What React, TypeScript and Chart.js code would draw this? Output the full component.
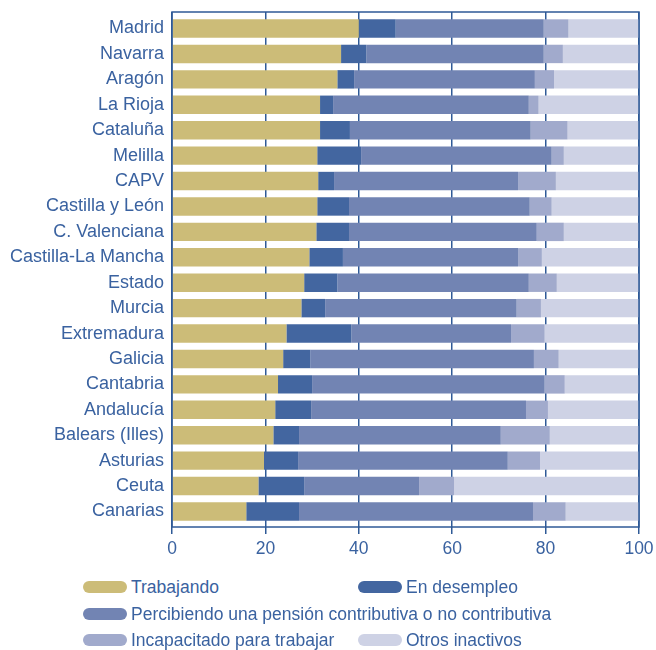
import React, { useEffect, useRef } from "react";
import { Chart, registerables } from "chart.js";

Chart.register(...registerables);

const categories = [
  "Madrid", "Navarra", "Aragón", "La Rioja", "Cataluña", "Melilla", "CAPV",
  "Castilla y León", "C. Valenciana", "Castilla-La Mancha", "Estado", "Murcia",
  "Extremadura", "Galicia", "Cantabria", "Andalucía", "Balears (Illes)",
  "Asturias", "Ceuta", "Canarias",
];

const trabajando = [40.0, 36.2, 35.4, 31.7, 31.7, 31.1, 31.3, 31.1, 30.9, 29.4, 28.3, 27.7, 24.5, 23.8, 22.7, 22.1, 21.7, 19.7, 18.5, 15.9];
const desempleo = [7.9, 5.4, 3.6, 2.8, 6.4, 9.4, 3.4, 6.8, 7.0, 7.2, 7.1, 5.1, 13.9, 5.8, 7.3, 7.7, 5.5, 7.3, 9.8, 11.3];
const pension = [31.7, 38.0, 38.7, 41.9, 38.7, 40.8, 39.4, 38.7, 40.2, 37.5, 41.0, 41.0, 34.2, 47.9, 49.8, 46.0, 43.2, 44.9, 24.6, 50.1];
const incapacitado = [5.3, 4.1, 4.1, 2.1, 7.9, 2.6, 8.1, 4.7, 5.8, 5.1, 6.0, 5.2, 7.2, 5.3, 4.3, 4.7, 10.5, 6.9, 7.5, 7.0];
const otros = [15.1, 16.3, 18.2, 21.5, 15.3, 16.1, 17.8, 18.7, 16.1, 20.8, 17.6, 21.0, 20.2, 17.2, 15.9, 19.5, 19.1, 21.2, 39.6, 15.7];

const seriesNames = [
  "Trabajando",
  "En desempleo",
  "Percibiendo una pensión contributiva o no contributiva",
  "Incapacitado para trabajar",
  "Otros inactivos",
];
const seriesColors = ["#CCBC78", "#4366A0", "#7284B3", "#A1AACC", "#CED2E5"];
const seriesData = [trabajando, desempleo, pension, incapacitado, otros];

const xTicks = [0, 20, 40, 60, 80, 100];

const TEXT = "#3A62A0";
const AXIS = "#2F5A97";
const FONT = "'Liberation Sans', Arial, Helvetica, sans-serif";

const boxPlugin = {
  id: "boxPlugin",
  afterDatasetsDraw(chart: any) {
    const { ctx, chartArea } = chart;
    ctx.save();
    ctx.strokeStyle = AXIS;
    ctx.lineWidth = 1.5;
    ctx.strokeRect(chartArea.left, chartArea.top, chartArea.right - chartArea.left, chartArea.bottom - chartArea.top);
    ctx.restore();
  },
};

const legendLayout = [
  { idx: 0, row: 0, col: 0 },
  { idx: 1, row: 0, col: 1 },
  { idx: 2, row: 1, col: 0 },
  { idx: 3, row: 2, col: 0 },
  { idx: 4, row: 2, col: 1 },
];

export default function App() {
  const ref = useRef<HTMLCanvasElement | null>(null);

  useEffect(() => {
    if (!ref.current) return;
    const chart = new Chart(ref.current, {
      type: "bar",
      data: {
        labels: categories,
        datasets: seriesNames.map((name, i) => ({
          label: name,
          data: seriesData[i],
          backgroundColor: seriesColors[i],
          borderWidth: 0,
          categoryPercentage: 1,
          barPercentage: 0.725,
        })),
      },
      options: {
        indexAxis: "y",
        animation: false,
        responsive: false,
        layout: { padding: { top: 12, right: 17, left: 0, bottom: 0 } },
        plugins: {
          legend: { display: false },
          tooltip: { enabled: false },
        },
        scales: {
          x: {
            stacked: true,
            min: 0,
            max: 100,
            afterFit: (s: any) => {
              s.height = 43;
              s.paddingLeft = 0;
              s.paddingRight = 0;
            },
            afterBuildTicks: (s: any) => { s.ticks = xTicks.map((v) => ({ value: v })); },
            grid: {
              display: true,
              color: AXIS,
              lineWidth: 1.5,
              drawTicks: true,
              tickLength: 7,
              tickColor: AXIS,
              tickWidth: 1.5,
            },
            border: { display: false },
            ticks: {
              color: TEXT,
              padding: 5,
              font: { family: FONT, size: 17.5 },
            },
          },
          y: {
            stacked: true,
            afterFit: (s: any) => {
              s.width = 172;
              s.paddingTop = 0;
              s.paddingBottom = 0;
            },
            afterBuildTicks: (s: any) => {
              s._startValue = -0.65;
              s._valueRange = 20.26;
            },
            grid: { display: false, drawTicks: false },
            border: { display: false },
            ticks: {
              color: TEXT,
              padding: 8,
              autoSkip: false,
              font: { family: FONT, size: 18 },
            },
          },
        },
      },
      plugins: [boxPlugin],
    } as any);
    return () => chart.destroy();
  }, []);

  const colX = [83, 358];
  const rowY = [587, 613.5, 640];

  return (
    <div style={{ position: "fixed", left: 0, top: 0, width: 656, height: 650, background: "#fff", fontFamily: FONT }}>
      <canvas ref={ref} width={656} height={570} style={{ position: "absolute", left: 0, top: 0, width: 656, height: 570 }} />
      {legendLayout.map(({ idx, row, col }) => (
        <div
          key={idx}
          style={{
            position: "absolute",
            left: colX[col],
            top: rowY[row] - 12,
            height: 24,
            display: "flex",
            alignItems: "center",
            whiteSpace: "nowrap",
          }}
        >
          <span
            style={{
              display: "inline-block",
              width: 44,
              height: 12,
              borderRadius: 6,
              background: seriesColors[idx],
              marginRight: 4,
            }}
          />
          <span style={{ color: TEXT, fontSize: 17.5, lineHeight: "24px" }}>{seriesNames[idx]}</span>
        </div>
      ))}
    </div>
  );
}
